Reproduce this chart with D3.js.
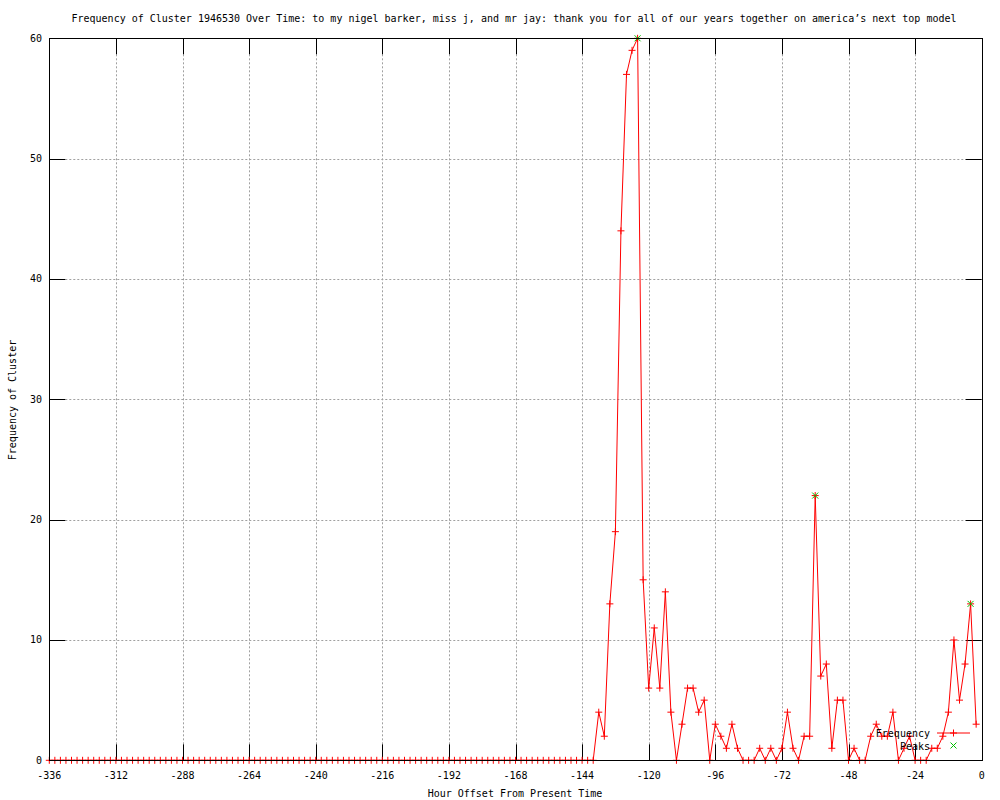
<!DOCTYPE html>
<html>
<head>
<meta charset="utf-8">
<script src="https://cdn.jsdelivr.net/npm/d3@7"></script>
<style>
  body { margin: 0; background: #fff; }
  text { font-family: "DejaVu Sans Mono", monospace; font-size: 10px; fill: #000; }
</style>
</head>
<body>
<script>
// data, one value every 2 hours starting at firstHour
var firstHour = -336;
var stepHours = 2;
var frequency = [
  0,0,0,0,0,0,0,0,0,0,
  0,0,0,0,0,0,0,0,0,0,
  0,0,0,0,0,0,0,0,0,0,
  0,0,0,0,0,0,0,0,0,0,
  0,0,0,0,0,0,0,0,0,0,
  0,0,0,0,0,0,0,0,0,0,
  0,0,0,0,0,0,0,0,0,0,
  0,0,0,0,0,0,0,0,0,0,
  0,0,0,0,0,0,0,0,0,0,
  0,0,0,0,0,0,0,0,0,
  4,2,13,19,44,57,59,60,15,6,
  11,6,14,4,0,3,6,6,4,5,
  0,3,2,1,3,1,0,0,0,1,
  0,1,0,1,4,1,0,2,2,22,
  7,8,1,5,5,0,1,0,0,2,
  3,2,2,4,0,1,2,0,0,0,
  1,1,2,4,10,5,8,13,3
];
var peakHours = [-124, -60, -4];
var peakValues = [60, 22, 13];
var xTicks = [-336, -312, -288, -264, -240, -216, -192, -168, -144, -120, -96, -72, -48, -24, 0];
var yTicks = [0, 10, 20, 30, 40, 50, 60];

var titleText = "Frequency of Cluster 1946530 Over Time: to my nigel barker, miss j, and mr jay: thank you for all of our years together on america\u2019s next top model";

// plot box ("top" is taken by window.top, so use other names)
var plotLeft = 49.3, plotRight = 981.7, plotTop = 38.3, plotBottom = 760.3;
var tickLen = 16;

var svg = d3.select("body").append("svg")
  .attr("width", 1000)
  .attr("height", 800);

var x = d3.scaleLinear().domain([-336, 0]).range([plotLeft, plotRight]);
var y = d3.scaleLinear().domain([0, 60]).range([plotBottom, plotTop]);

var points = frequency.map(function(v, i) {
  return { h: firstHour + i * stepHours, v: v };
});
var peaks = peakHours.map(function(h, i) { return { h: h, v: peakValues[i] }; });

// grid
var grid = svg.append("g")
  .attr("stroke", "#a0a0a0")
  .attr("stroke-width", 1)
  .attr("stroke-dasharray", "2,2");

grid.selectAll("line.gx").data(xTicks.slice(1, -1)).enter().append("line")
  .attr("x1", function(d) { return Math.round(x(d)) + 0.5; })
  .attr("x2", function(d) { return Math.round(x(d)) + 0.5; })
  .attr("y1", plotTop)
  .attr("y2", plotBottom);

grid.selectAll("line.gy").data(yTicks.slice(1, -1)).enter().append("line")
  .attr("x1", plotLeft)
  .attr("x2", plotRight)
  .attr("y1", function(d) { return Math.round(y(d)) + 0.5; })
  .attr("y2", function(d) { return Math.round(y(d)) + 0.5; });

// tick marks, mirrored on all sides
var ticks = svg.append("g")
  .attr("stroke", "#000")
  .attr("stroke-width", 1);

xTicks.forEach(function(d) {
  var px = Math.round(x(d)) + 0.5;
  ticks.append("line").attr("x1", px).attr("x2", px).attr("y1", plotBottom).attr("y2", plotBottom - tickLen);
  ticks.append("line").attr("x1", px).attr("x2", px).attr("y1", plotTop).attr("y2", plotTop + tickLen);
});
yTicks.forEach(function(d) {
  var py = Math.round(y(d)) + 0.5;
  ticks.append("line").attr("x1", plotLeft).attr("x2", plotLeft + tickLen).attr("y1", py).attr("y2", py);
  ticks.append("line").attr("x1", plotRight).attr("x2", plotRight - tickLen).attr("y1", py).attr("y2", py);
});

// frequency line + markers
var line = d3.line()
  .x(function(d) { return x(d.h); })
  .y(function(d) { return y(d.v); });

svg.append("path")
  .datum(points)
  .attr("fill", "none")
  .attr("stroke", "#ff0000")
  .attr("stroke-width", 1)
  .attr("d", line);

function plus(g, cx, cy, color) {
  g.append("path")
    .attr("d", "M" + (cx - 3.5) + "," + cy + "H" + (cx + 3.5) + "M" + cx + "," + (cy - 3.5) + "V" + (cy + 3.5))
    .attr("stroke", color)
    .attr("stroke-width", 1)
    .attr("fill", "none");
}
function cross(g, cx, cy, color) {
  g.append("path")
    .attr("d", "M" + (cx - 3) + "," + (cy - 3) + "L" + (cx + 3) + "," + (cy + 3) +
               "M" + (cx - 3) + "," + (cy + 3) + "L" + (cx + 3) + "," + (cy - 3))
    .attr("stroke", color)
    .attr("stroke-width", 1)
    .attr("fill", "none");
}

var markers = svg.append("g");
points.forEach(function(d) { plus(markers, x(d.h), y(d.v), "#ff0000"); });

var peakG = svg.append("g");
peaks.forEach(function(d) { cross(peakG, x(d.h), y(d.v), "#00c000"); });

// border
svg.append("rect")
  .attr("x", Math.round(plotLeft) + 0.5)
  .attr("y", Math.round(plotTop) + 0.5)
  .attr("width", Math.round(plotRight) - Math.round(plotLeft))
  .attr("height", Math.round(plotBottom) - Math.round(plotTop))
  .attr("fill", "none")
  .attr("stroke", "#000")
  .attr("stroke-width", 1);

// tick labels
svg.selectAll("text.xl").data(xTicks).enter().append("text")
  .attr("x", function(d) { return x(d); })
  .attr("y", 778.5)
  .attr("text-anchor", "middle")
  .text(function(d) { return d; });

svg.selectAll("text.yl").data(yTicks).enter().append("text")
  .attr("x", 42)
  .attr("y", function(d) { return y(d) + 3.5; })
  .attr("text-anchor", "end")
  .text(function(d) { return d; });

// titles
svg.append("text")
  .attr("x", 514)
  .attr("y", 21.5)
  .attr("text-anchor", "middle")
  .text(titleText);

svg.append("text")
  .attr("x", 515)
  .attr("y", 796.5)
  .attr("text-anchor", "middle")
  .text("Hour Offset From Present Time");

svg.append("text")
  .attr("transform", "translate(15.5, 400) rotate(-90)")
  .attr("text-anchor", "middle")
  .text("Frequency of Cluster");

// legend
var legend = svg.append("g");
legend.append("text").attr("x", 930).attr("y", 737).attr("text-anchor", "end").text("Frequency");
legend.append("line")
  .attr("x1", 937).attr("x2", 970).attr("y1", 733).attr("y2", 733)
  .attr("stroke", "#ff0000").attr("stroke-width", 1);
plus(legend, 953.5, 733, "#ff0000");
legend.append("text").attr("x", 930).attr("y", 749.5).attr("text-anchor", "end").text("Peaks");
cross(legend, 953.5, 745.5, "#00c000");
</script>
</body>
</html>
